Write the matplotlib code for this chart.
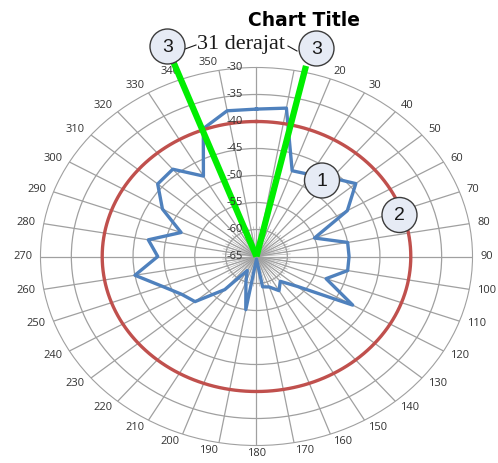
"""
Radar style polar plot of the received level around a full turn,
with the -40 threshold ring and the two beam edges (31 derajat).
"""

import numpy as np
import matplotlib.pyplot as plt
from matplotlib.patches import Circle

# level read per bearing (degrees, dB)
angles_deg = list(range(0, 360, 10))
level_db = [-37.7, -37.1, -48.1, -47.5, -46.0, -44.0, -48.0, -55.0, -50.0, -50.0,
            -50.0, -53.0, -47.0, -56.4, -59.0, -57.7, -59.0, -59.3, -64.5, -55.0,
            -60.0, -62.0, -57.0, -52.0, -51.0, -48.8, -45.0, -49.0, -47.2, -52.0,
            -47.4, -44.1, -43.9, -47.8, -39.8, -37.6]

threshold_db = -40

# the two green beam edges and how far out they reach
beam_edges_deg = [339.5, 12.8]
beam_reach_db = [-26.7, -28.8]

r_min, r_max = -65, -30
ring_values = [-65, -60, -55, -50, -45, -40, -35, -30]
spoke_labels = ['', ''] + [str(a) for a in angles_deg[2:]]

# numbered callouts (label, x px, y px)
callout_labels = ['3', '3', '1', '2']
callout_x = [167.5, 316.5, 322, 399.5]
callout_y = [46.5, 48.5, 180.5, 215]

W, H = 498, 463
fig = plt.figure(figsize=(W / 100, H / 100), dpi=100)
ax = fig.add_axes([0.0813, 0.0378, 0.8675, 0.8164], projection='polar')
ax.set_aspect('auto')
ax.set_theta_zero_location('N')
ax.set_theta_direction(-1)
ax.set_rlim(r_min, r_max)
ax.set_thetagrids(angles_deg, labels=[''] * len(angles_deg))
ax.set_rgrids(ring_values[1:-1], labels=[''] * (len(ring_values) - 2))
ax.grid(color='#a0a0a0', lw=0.9)
ax.spines['polar'].set_color('#a0a0a0')
ax.tick_params(length=0, pad=0)

# dense short spokes round the hub
for a in np.arange(0, 360, 5):
    ax.plot([np.radians(a)] * 2, [r_min, -59.5], color='#b4b4b4', lw=0.5, zorder=1)

theta = np.radians(angles_deg + [angles_deg[0]])
ax.plot(theta, level_db + [level_db[0]], color='#4f81bd', lw=2.4, zorder=3)

ring_theta = np.linspace(0, 2 * np.pi, 361)
ax.plot(ring_theta, np.full(ring_theta.shape, threshold_db), color='#c0504d', lw=2.4, zorder=3)

for edge, reach in zip(beam_edges_deg, beam_reach_db):
    ax.plot([np.radians(edge)] * 2, [r_min, reach], color='#00ee00', lw=4.5,
            solid_capstyle='butt', clip_on=False, zorder=4)

# radial labels along the top spoke
for v in ring_values:
    ax.annotate(str(v), xy=(0, v), xytext=(-14, 0), textcoords='offset pixels',
                ha='right', va='center', fontsize=8, color='#333333', family='Open Sans',
                annotation_clip=False, zorder=5)

# bearing labels just outside the rim, pushed sideways like Excel does
for a, lab in zip(angles_deg, spoke_labels):
    if not lab:
        continue
    s, c = np.sin(np.radians(a)), np.cos(np.radians(a))
    if abs(s) < 1e-6:
        ha = 'center'
    else:
        ha = 'left' if s > 0 else 'right'
    ax.annotate(lab, xy=(np.radians(a), r_max), xytext=(8 * s, 8 * c),
                textcoords='offset pixels', ha=ha, va='center', fontsize=8,
                color='#333333', family='Open Sans', annotation_clip=False)

# overlay in pixel units for title and callouts
ov = fig.add_axes([0, 0, 1, 1])
ov.set_xlim(0, W)
ov.set_ylim(H, 0)
ov.axis('off')
ov.patch.set_alpha(0)

ov.text(304, 20, 'Chart Title', ha='center', va='center', fontsize=13.5,
        fontweight='bold', family='DejaVu Sans')

for lab, x, y in zip(callout_labels, callout_x, callout_y):
    ov.add_patch(Circle((x, y), 17.5, fc='#e6ebf5', ec='#3c3c3c', lw=1, zorder=6))
    ov.text(x, y + 1, lab, ha='center', va='center', fontsize=14,
            family='Liberation Sans', color='#1a1a1a', zorder=7)

ov.text(197, 45, '31 derajat', ha='left', va='center', fontsize=16,
        family='Liberation Serif', color='#1a1a1a')
ov.plot([185, 196], [49, 45], color='#1a1a1a', lw=0.8)
ov.plot([288, 297], [46, 51], color='#1a1a1a', lw=0.8)

fig.savefig('out.png', dpi=100)
